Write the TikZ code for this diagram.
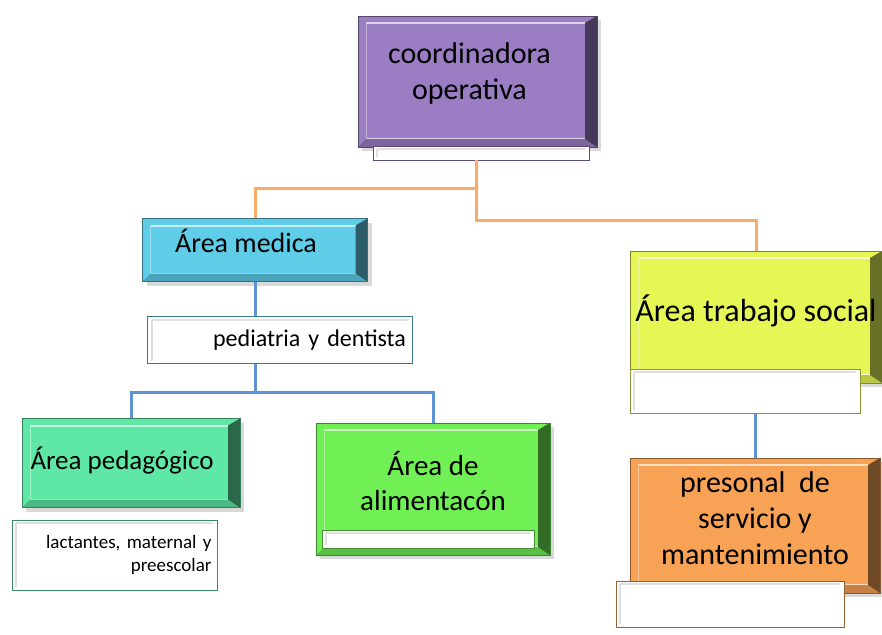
\documentclass[tikz,border=0pt]{standalone}
\usepackage{fontspec}
\setmainfont{Carlito}
\usetikzlibrary{positioning, calc, shadows}
\definecolor{morado}{RGB}{155,125,195}
\definecolor{celeste}{RGB}{95,205,232}
\definecolor{menta}{RGB}{95,232,165}
\definecolor{verde}{RGB}{112,240,85}
\definecolor{amarillo}{RGB}{230,247,85}
\definecolor{naranja}{RGB}{247,162,85}
\definecolor{lineanaranja}{RGB}{250,172,100}
\definecolor{lineaazul}{RGB}{95,145,215}
\tikzset{
  area/.style={rectangle, draw=#1!55!black, fill=#1, inner sep=2pt, align=center, text=black,
    drop shadow={shadow xshift=4pt, shadow yshift=-4pt, opacity=.3},
    path picture={
      \draw[#1!35!white, line width=2pt] ([shift={(8pt,-7pt)}]path picture bounding box.north west) -- ([shift={(-12pt,-7pt)}]path picture bounding box.north east); % brillo arriba
      \draw[#1!35!white, line width=2pt] ([shift={(8pt,8pt)}]path picture bounding box.south west) -- ([shift={(-12pt,8pt)}]path picture bounding box.south east); % brillo abajo
      \draw[#1!60!white, line width=1pt] ([shift={(8pt,-7pt)}]path picture bounding box.north west) -- ([shift={(8pt,8pt)}]path picture bounding box.south west); % brillo izquierda
      \fill[#1!80!black] (path picture bounding box.south west) -- ([shift={(8pt,8pt)}]path picture bounding box.south west)
            -- ([shift={(-12pt,8pt)}]path picture bounding box.south east) -- (path picture bounding box.south east) -- cycle; % borde abajo
      \fill[#1!45!black] (path picture bounding box.north east) -- (path picture bounding box.south east)
            -- ([shift={(-12pt,8pt)}]path picture bounding box.south east) -- ([shift={(-12pt,-7pt)}]path picture bounding box.north east) -- cycle; % borde derecho
    }
  },
  tira/.style={rectangle, draw=#1!60!black, fill=white, inner sep=0pt, line width=0.8pt,
    path picture={
      \draw[gray!25, line width=2pt] ([shift={(4pt,-3pt)}]path picture bounding box.north west) -- ([shift={(-4pt,-3pt)}]path picture bounding box.north east);
      \draw[gray!25, line width=2pt] ([shift={(4pt,-3pt)}]path picture bounding box.north west) -- ([shift={(4pt,3pt)}]path picture bounding box.south west);
    }
  },
  lineanar/.style={line width=3pt, draw=lineanaranja},
  lineaaz/.style={line width=3pt, draw=lineaazul}
}

\begin{document}
\begin{tikzpicture}[x=1pt, y=-1pt]
\useasboundingbox (0,0) rectangle (882,634);

% conectores
\coordinate (j1) at (476,188);
\coordinate (j2) at (476,220);
\coordinate (j3) at (255,392);

\node (coord) [area=morado, minimum width=239pt, minimum height=131pt, font=\fontsize{30}{36}\selectfont] at (477.5,81.5) {coordinadora\hspace*{16pt}\mbox{}\\operativa\hspace*{16pt}\mbox{}\\[-16pt]};
\node (coordstrip) [tira=morado, minimum width=216pt, minimum height=14pt] at (481,153) {};

\node (medica) [area=celeste, minimum width=225pt, minimum height=63pt, font=\fontsize{28}{34}\selectfont] at (255,250) {Área medica\hspace*{18pt}\mbox{}\\[-16pt]};
\node (pediatria) [tira=celeste, minimum width=265pt, minimum height=47pt, text width=252pt, align=right, font=\fontsize{24}{28}\selectfont] at (280,340) {pediatria y dentista};

\node (pedagogico) [area=menta, minimum width=218pt, minimum height=89pt, font=\fontsize{27}{32}\selectfont] at (131,463) {Área pedagógico\hspace*{18pt}\mbox{}\\[-22pt]};
\node (lactantes) [tira=menta, minimum width=205pt, minimum height=70pt, text width=194pt, align=right, font=\fontsize{19}{23}\selectfont] at (114.5,555) {lactantes, maternal y\\preescolar};

\node (alimentacion) [area=verde, minimum width=234pt, minimum height=132pt, font=\fontsize{29}{35}\selectfont] at (433,489) {Área de\\alimentacón\\[-18pt]};
\node (alimstrip) [tira=verde, minimum width=212pt, minimum height=18pt] at (428,539) {};

\node (social) [area=amarillo, minimum width=252pt, minimum height=132pt, inner sep=0pt, font=\fontsize{32}{38}\selectfont] at (756,317) {Área trabajo social\\[-20pt]};
\node (socialstrip) [tira=amarillo, minimum width=230pt, minimum height=44pt] at (745,391) {};

\node (presonal) [area=naranja, minimum width=250pt, minimum height=135pt, font=\fontsize{30}{36}\selectfont] at (755,525.5) {presonal\ \ de\\servicio y\\mantenimiento\\[-22pt]};
\node (presonalstrip) [tira=naranja, minimum width=228pt, minimum height=46pt] at (730,604) {};

\draw [lineanar] (coordstrip.south -| j1) -- (j2) -| (social.north);
\draw [lineanar] (j1) -| (medica.north);

\draw [lineaaz] (medica.south) -- (medica.south |- pediatria.north);
\draw [lineaaz] (medica.south |- pediatria.south) -- (j3);
\draw [lineaaz] (j3) -| (pedagogico.north);
\draw [lineaaz] (j3) -| (alimentacion.north);

\draw [lineaaz] (socialstrip.south -| presonal.north) -- (presonal.north);

\end{tikzpicture}
\end{document}
